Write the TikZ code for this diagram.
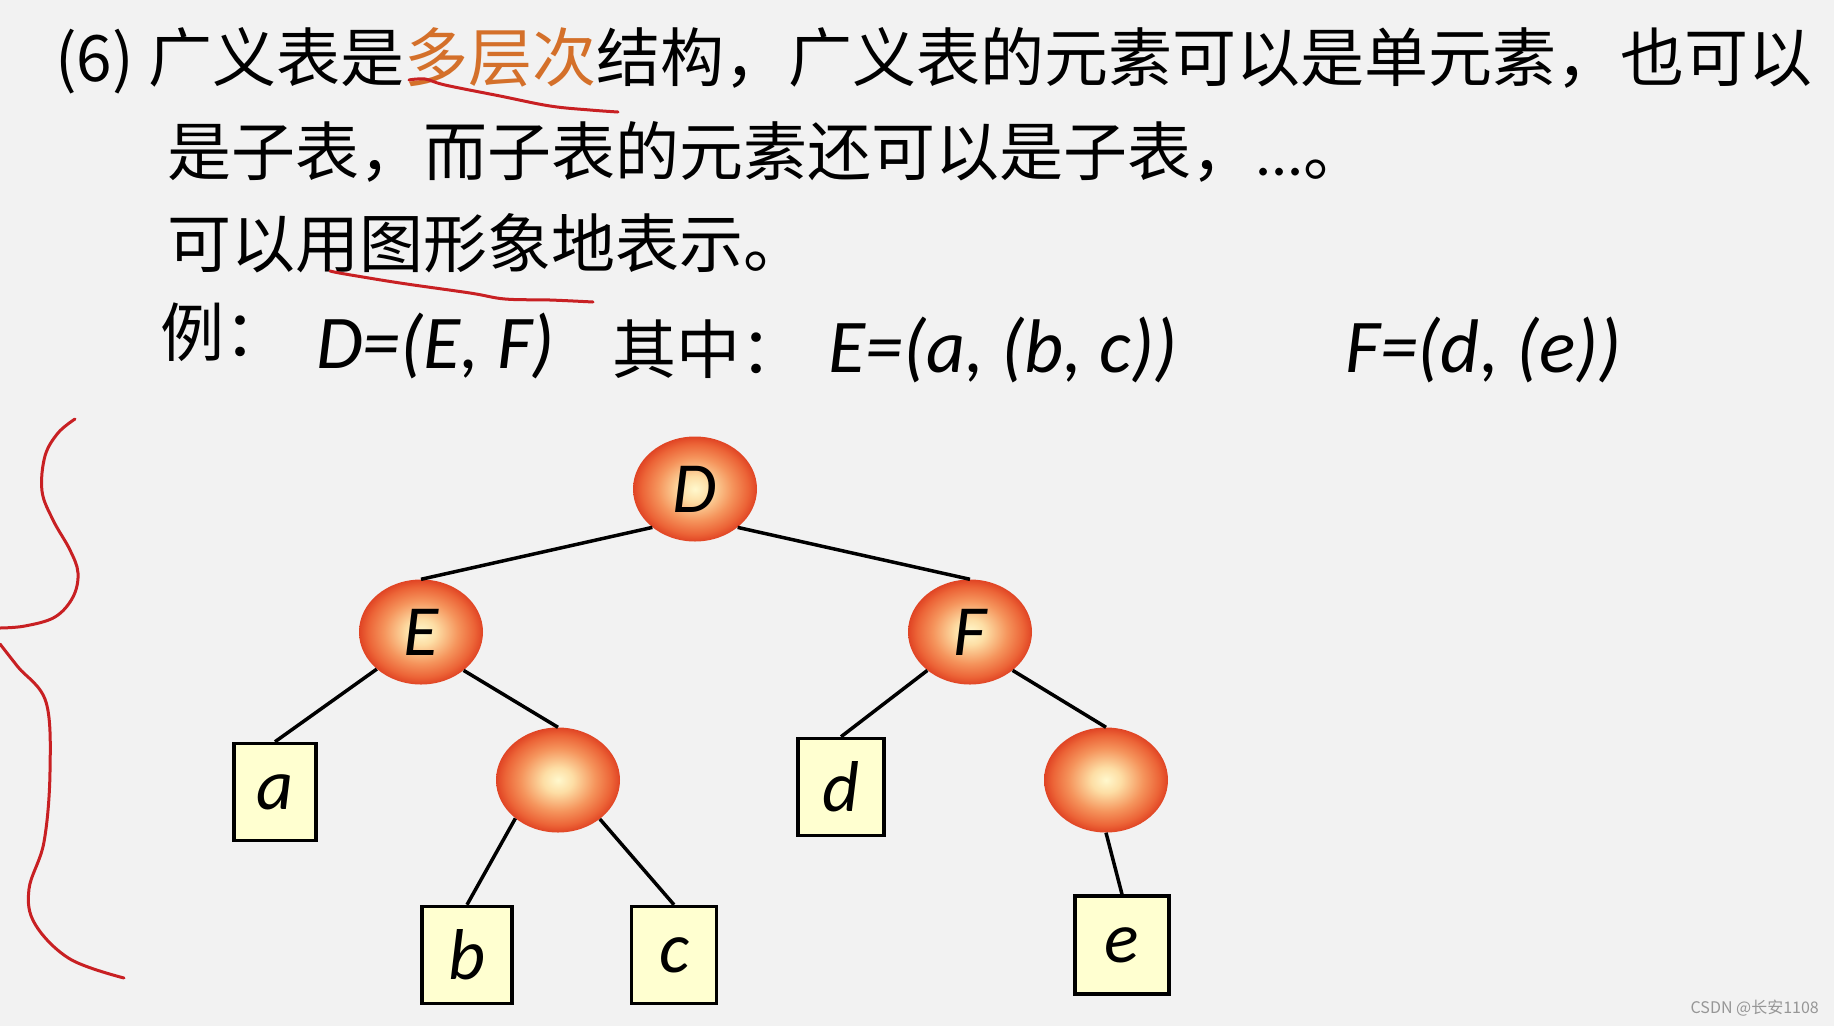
\documentclass[tikz,border=0pt]{standalone}
\usepackage{fontspec}
\setmainfont{Noto Sans CJK SC}
\newfontfamily\lat{Carlito}
\usetikzlibrary{shapes.geometric}
\definecolor{bgc}{RGB}{242,242,242}
\definecolor{orangetxt}{RGB}{212,112,42}
\definecolor{redink}{RGB}{200,32,35}
\definecolor{leafc}{RGB}{255,255,208}
\definecolor{ballA}{RGB}{255,248,205}
\definecolor{ballB}{RGB}{253,222,165}
\definecolor{ballC}{RGB}{245,148,92}
\definecolor{ballE}{RGB}{236,100,55}
\definecolor{ballD}{RGB}{224,68,36}
\definecolor{wmark}{RGB}{150,150,150}
\pgfdeclareradialshading{ballshade}{\pgfpoint{0bp}{0bp}}{color(0bp)=(ballA); color(6bp)=(ballB); color(15bp)=(ballC); color(21.5bp)=(ballE); color(25bp)=(ballD); color(50bp)=(ballD)}
\newcommand\lettfont{\lat\itshape\fontsize{72pt}{80pt}\selectfont}
\newcommand\cjkbig{\fontsize{64pt}{70pt}\selectfont}
\newcommand\formfont{\lat\itshape\fontsize{76pt}{84pt}\selectfont}
\begin{document}
\begin{tikzpicture}[x=1pt,y=-1pt,
  ball/.style={ellipse, minimum width=124pt, minimum height=105pt, inner sep=0pt, shading=ballshade, font=\lettfont},
  leaf/.style={draw=black, line width=3.5pt, fill=leafc, inner sep=0pt, minimum height=97pt, font=\lettfont},
  edge/.style={draw=black, line width=3.5pt},
  ink/.style={draw=redink, line width=3pt, line cap=round, line join=round},
  txt/.style={anchor=base west, inner sep=0pt, font=\cjkbig},
  form/.style={anchor=base west, inner sep=0pt, font=\formfont}]
\fill[bgc] (0,0) rectangle (1834,1026);
\useasboundingbox (0,0) rectangle (1834,1026);

% text
\node[txt] (t1) at (55,81) {(6) 广义表是\textcolor{orangetxt}{多层次}结构，广义表的元素可以是单元素，也可以};
\node[txt] (t2) at (167,175) {是子表，而子表的元素还可以是子表，{\lat ...}。};
\node[txt] (t3) at (167,267) {可以用图形象地表示。};
\node[txt] (t4) at (160,356) {例：};
\node[form] (f1) at (316,368) {D=(E, F)};
\node[txt] (t5) at (612,373) {其中：};
\node[form] (f2) at (828,372) {E=(a, (b, c))};
\node[form] (f3) at (1345,372) {F=(d, (e))};

% red handwriting
\draw[ink] plot[smooth, tension=0.6] coordinates {(409,80) (425,79) (445,85) (500,96) (550,106) (590,110) (618,112)};
\draw[ink] plot[smooth, tension=0.6] coordinates {(330,271) (345,274) (400,283) (470,293) (505,299) (550,300) (593,302)};
\draw[ink] plot[smooth, tension=0.6] coordinates {(75,419) (58,433) (45,456) (42,491) (53,520) (70,550) (78,573) (73,597) (55,617) (25,626) (0,628)};
\draw[ink] plot[smooth, tension=0.6] coordinates {(0,644) (18,667) (46,702) (50,772) (44,842) (29,889) (35,924) (70,959) (124,978)};

% tree
\node[ball] (D) at (695,489) {D};
\node[ball] (E) at (421,632) {E};
\node[ball] (F) at (970,632) {F};
\node[ball] (L) at (558,780) {};
\node[ball] (R) at (1106,780) {};
\node[leaf, minimum width=82pt] (a) at (275,792) {a};
\node[leaf, minimum width=90pt] (b) at (467,955) {b};
\node[leaf, minimum width=85pt] (c) at (674,955) {c};
\node[leaf, minimum width=86pt] (d) at (841,787) {d};
\node[leaf, minimum width=94pt, minimum height=98pt] (e) at (1122,945) {e};

\draw[edge] (D.222) -- (E.north);
\draw[edge] (D.318) -- (F.north);
\draw[edge] (E.220) -- (a.north);
\draw[edge] (E.318) -- (L.north);
\draw[edge] (L.222) -- (b.north);
\draw[edge] (L.317) -- (c.north);
\draw[edge] (F.222) -- (d.north);
\draw[edge] (F.318) -- (R.north);
\draw[edge] (R.south) -- (e.north);

% watermark
\node[anchor=base east, inner sep=0pt, text=wmark, font=\fontsize{16pt}{18pt}\selectfont] (wm) at (1819,1013) {CSDN @长安1108};
\end{tikzpicture}
\end{document}
